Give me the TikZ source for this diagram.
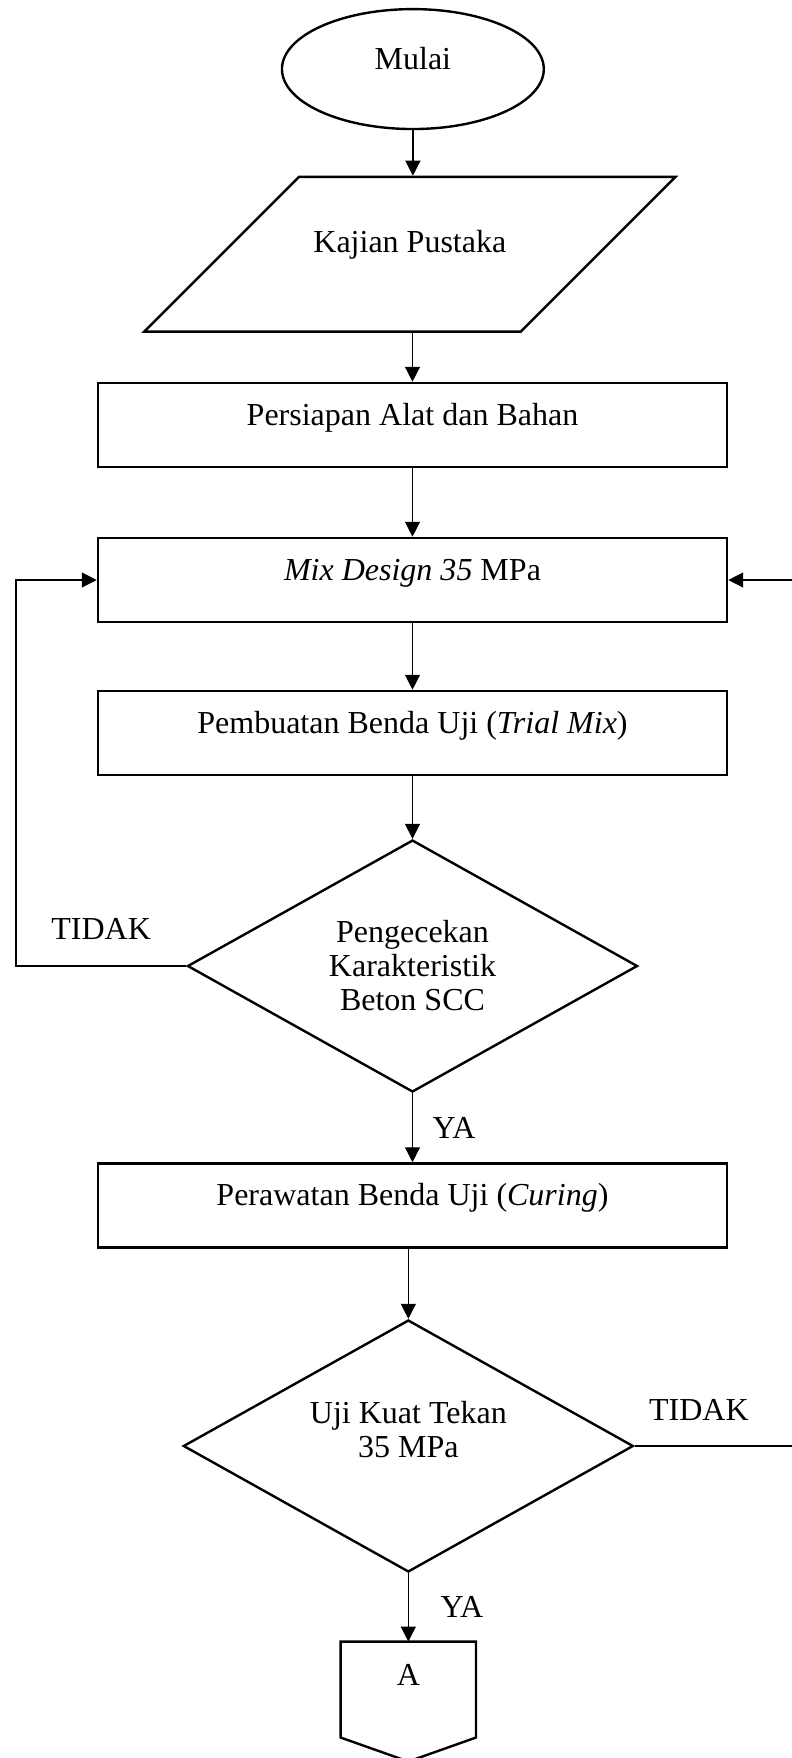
\documentclass[tikz,border=0pt]{standalone}
\usepackage{fontspec}
\setmainfont{Liberation Serif}
\usepackage{tikz}
\usetikzlibrary{shapes.geometric,arrows.meta}

\begin{document}
\begin{tikzpicture}[>={Triangle[length=5.6pt,width=5.6pt]}, font=\fontsize{12pt}{12.75pt}\selectfont,
  term/.style={draw, ellipse, line width=0.9pt, minimum width=3.45cm, minimum height=1.58cm, inner sep=0pt, text height=9pt, text depth=9pt},
  io/.style={draw, trapezium, trapezium left angle=45, trapezium right angle=135, trapezium stretches body=true, line width=0.9pt, minimum width=7cm, inner xsep=0pt, inner ysep=19.5pt, text height=9pt, text depth=10pt},
  box/.style={draw, line width=0.9pt, minimum width=8.29cm, minimum height=1.11cm, inner sep=0pt, text height=9pt, text depth=9pt},
  dec/.style={draw, diamond, aspect=1.8, line width=0.9pt, align=center, inner sep=0pt, minimum width=5.93cm, minimum height=3.32cm},
  conn/.style={minimum width=1.77cm, minimum height=1.25cm, inner sep=0pt, text height=9pt, text depth=12pt},
  flow/.style={->, line width=0.5pt}]
\useasboundingbox (0,0) rectangle (10.435,-23.163);
\clip (0,0) rectangle (10.435,-23.163);

\node[term] (start) at (5.44,-0.91)   {Mulai};
\node[io]   (io)    at (5.40,-3.35)   {Kajian Pustaka};
\node[box]  (prep)  at (5.435,-5.60)  {Persiapan Alat dan Bahan};
\node[box]  (mix)   at (5.435,-7.642) {\textit{Mix Design 35} MPa};
\node[box]  (trial) at (5.435,-9.658) {Pembuatan Benda Uji (\textit{Trial Mix})};
\node[dec]  (cek)   at (5.435,-12.728){Pengecekan\\Karakteristik\\Beton SCC};
\node[box]  (cure)  at (5.435,-15.884){Perawatan Benda Uji (\textit{Curing})};
\node[dec, text depth=12.5pt] (kuat) at (5.38,-19.052) {Uji Kuat Tekan\\35 MPa};
\node[conn] (conA)  at (5.38,-22.261) {A};
\coordinate (loopL) at (0.211,-7.642);
\coordinate (loopR) at (10.593,-7.642);

% off-page connector
\draw[line width=0.9pt] (conA.north west) -- (conA.north east) -- (conA.south east)
  -- ([yshift=-0.316cm]conA.south) -- (conA.south west) -- cycle;

\draw[flow] (start.south) -- (start.south |- io.north);
\draw[flow] (io.south -| prep.north) -- (prep.north);
\draw[flow] (prep) -- (mix);
\draw[flow] (mix) -- (trial);
\draw[flow] (trial) -- (cek);
\draw[flow] (cek) -- node[right=4pt]{YA} (cure);
\draw[flow] (cure.south -| kuat.north) -- (kuat.north);
\draw[flow] (kuat) -- node[right=8.5pt]{YA} (conA.north);
\draw[flow] (cek.west) -| node[pos=0.25, above=6.5pt]{TIDAK} (loopL) -- (mix.west);
\draw[flow] (kuat.east) -| node[pos=0.19, above=6pt]{TIDAK} (loopR) -- (mix.east);
\end{tikzpicture}
\end{document}
